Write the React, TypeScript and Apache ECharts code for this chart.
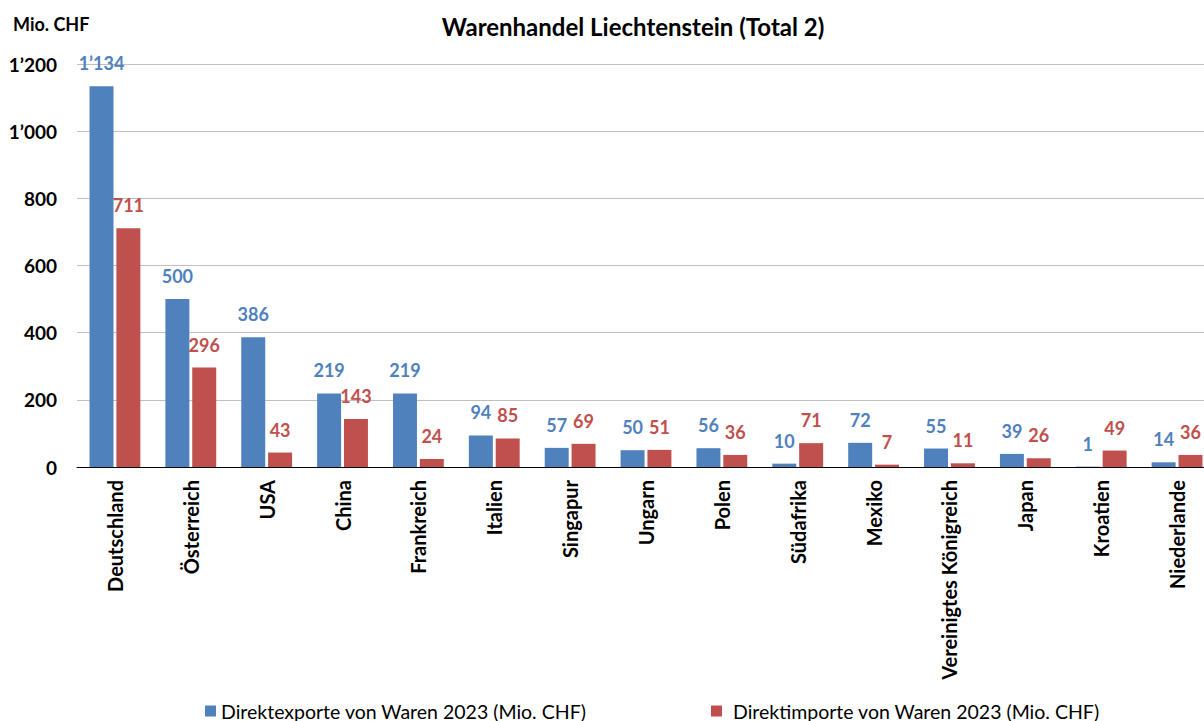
import React, { useEffect, useRef } from "react";
import * as echarts from "echarts";

const categories = [
  "Deutschland", "Österreich", "USA", "China", "Frankreich", "Italien", "Singapur",
  "Ungarn", "Polen", "Südafrika", "Mexiko", "Vereinigtes Königreich", "Japan", "Kroatien", "Niederlande",
];
const exportsValues = [1134, 500, 386, 219, 219, 94, 57, 50, 56, 10, 72, 55, 39, 1, 14];
const importsValues = [711, 296, 43, 143, 24, 85, 69, 51, 36, 71, 7, 11, 26, 49, 36];
const exportsName = "Direktexporte von Waren 2023 (Mio. CHF)";
const importsName = "Direktimporte von Waren 2023 (Mio. CHF)";
const titleText = "Warenhandel Liechtenstein (Total 2)";
const unitText = "Mio. CHF";

const BLUE = "#4F81BD";
const RED = "#C0504D";
const FONT = "Lato, 'Noto Sans', sans-serif";

const fmt = (v: number) => {
  const s = String(Math.round(v));
  return s.replace(/\B(?=(\d{3})+(?!\d))/g, "\u2019");
};

export default function App() {
  const ref = useRef<HTMLDivElement>(null);
  useEffect(() => {
    if (!ref.current) return;
    const chart = echarts.init(ref.current, undefined, { renderer: "svg" });
    chart.setOption({
      animation: false,
      backgroundColor: "#ffffff",
      title: [
        {
          text: titleText,
          left: 628,
          top: 9,
          textAlign: "center",
          textStyle: { fontFamily: FONT, fontSize: 24, fontWeight: "bold", color: "#000", lineHeight: 24 },
        },
        {
          text: unitText,
          left: 8,
          top: 10,
          textStyle: { fontFamily: FONT, fontSize: 18, fontWeight: "bold", color: "#000", lineHeight: 18 },
        },
      ],
      legend: [
        {
          data: [exportsName],
          left: 200,
          top: 696,
          icon: "rect",
          itemWidth: 11,
          itemHeight: 11,
          textStyle: { fontFamily: FONT, fontSize: 19.5, color: "#000", lineHeight: 20 },
        },
        {
          data: [importsName],
          left: 706,
          top: 696,
          icon: "rect",
          itemWidth: 11,
          itemHeight: 11,
          textStyle: { fontFamily: FONT, fontSize: 19.5, color: "#000", lineHeight: 20, padding: [0, 0, 0, 6] },
        },
      ],
      grid: { left: 77, top: 64, width: 1138, bottom: 254, containLabel: false },
      xAxis: {
        type: "category",
        data: categories,
        axisLine: { lineStyle: { color: "#000", width: 1 } },
        axisTick: { show: false },
        axisLabel: {
          rotate: 90,
          interval: 0,
          margin: 13,
          fontFamily: FONT,
          fontSize: 20,
          fontWeight: "bold",
          color: "#000",
        },
      },
      yAxis: {
        type: "value",
        min: 0,
        max: 1200,
        interval: 200,
        axisLine: { show: false },
        axisTick: { show: false },
        splitLine: { lineStyle: { color: "#BFBFBF", width: 1 } },
        axisLabel: {
          margin: 20,
          fontFamily: FONT,
          fontSize: 19,
          fontWeight: "bold",
          color: "#000",
          formatter: (v: number) => fmt(v),
        },
      },
      series: [
        {
          name: exportsName,
          type: "bar",
          data: exportsValues,
          itemStyle: { color: BLUE },
          barGap: "12%",
          barCategoryGap: "33%",
          label: {
            show: true,
            position: "top",
            distance: 14,
            fontFamily: FONT,
            fontSize: 18,
            fontWeight: "bold",
            color: BLUE,
            formatter: (p: any) => fmt(p.value),
          },
        },
        {
          name: importsName,
          type: "bar",
          data: importsValues,
          itemStyle: { color: RED },
          barGap: "12%",
          barCategoryGap: "33%",
          label: {
            show: true,
            position: "top",
            distance: 14,
            fontFamily: FONT,
            fontSize: 18,
            fontWeight: "bold",
            color: RED,
            formatter: (p: any) => fmt(p.value),
          },
        },
      ],
    });
    return () => chart.dispose();
  }, []);
  return (
    <div
      style={{
        position: "fixed",
        left: 0,
        top: 0,
        width: 1204,
        height: 721,
        overflow: "hidden",
        background: "#fff",
      }}
    >
      <div ref={ref} style={{ width: 1240, height: 721 }} />
    </div>
  );
}
